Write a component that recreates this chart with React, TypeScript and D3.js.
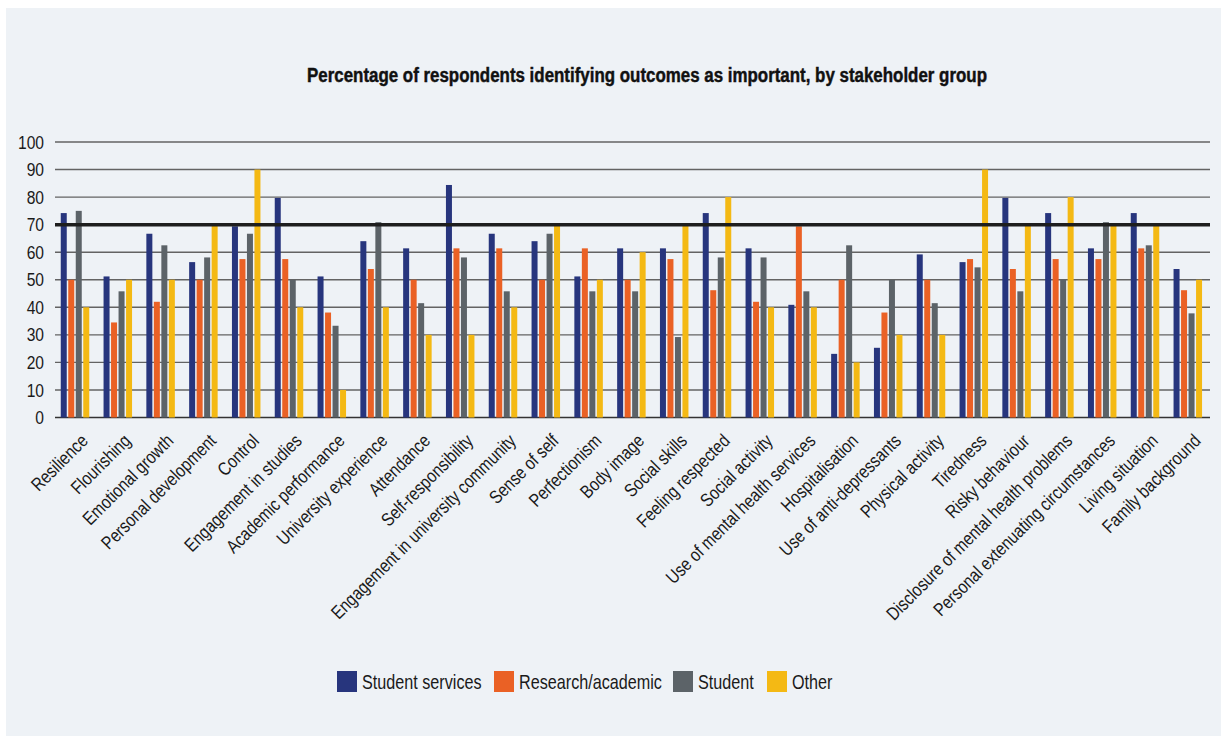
import React from "react";
import * as d3 from "d3";

// Outcome categories along the x axis
const categories = [
  "Resilience",
  "Flourishing",
  "Emotional growth",
  "Personal development",
  "Control",
  "Engagement in studies",
  "Academic performance",
  "University experience",
  "Attendance",
  "Self-responsibility",
  "Engagement in university community",
  "Sense of self",
  "Perfectionism",
  "Body image",
  "Social skills",
  "Feeling respected",
  "Social activity",
  "Use of mental health services",
  "Hospitalisation",
  "Use of anti-depressants",
  "Physical activity",
  "Tiredness",
  "Risky behaviour",
  "Disclosure of mental health problems",
  "Personal extenuating circumstances",
  "Living situation",
  "Family background",
];

// Percentage of each stakeholder group rating the outcome important
const studentServices = [
  74.2, 51.2, 66.7, 56.4, 69.4, 79.7, 51.2, 64, 61.4, 84.4, 66.7, 64, 51.2, 61.4,
  61.4, 74.2, 61.4, 40.9, 23.1, 25.3, 59.2, 56.4, 79.7, 74.2, 61.4, 74.2, 53.9,
];
const researchAcademic = [
  50, 34.5, 42, 50, 57.5, 57.5, 38.1, 53.9, 50, 61.4, 61.4, 50, 61.4, 50, 57.5,
  46.2, 42, 69.4, 50, 38.1, 50, 57.5, 53.9, 57.5, 57.5, 61.4, 46.2,
];
const student = [
  75, 45.8, 62.5, 58.1, 66.7, 50, 33.3, 70.9, 41.5, 58.1, 45.8, 66.7, 45.8, 45.8,
  29.2, 58.1, 58.1, 45.8, 62.5, 50, 41.5, 54.5, 45.8, 50, 70.9, 62.5, 37.8,
];
const other = [
  40, 50, 50, 70, 90, 40, 10, 40, 30, 30, 40, 70, 50, 60, 70, 80, 40, 40, 20, 30,
  30, 90, 70, 80, 70, 70, 50,
];

const seriesNames = ["Student services", "Research/academic", "Student", "Other"];
const seriesValues = [studentServices, researchAcademic, student, other];
const seriesColors = ["#27357d", "#ea6125", "#5c6368", "#f4b914"];

const yTicks = [0, 10, 20, 30, 40, 50, 60, 70, 80, 90, 100];
const threshold = 70;

const W = 1226;
const H = 736;
const FONT = "'Liberation Sans', Arial, sans-serif";
// horizontal squeeze giving the condensed grotesque look
const SQUEEZE = 0.83;

export default function App() {
  const x = d3.scaleBand<string>().domain(categories).range([53.6, 1209.2]);
  const inner = d3
    .scaleBand<number>()
    .domain(d3.range(seriesNames.length))
    .range([x.bandwidth() / 2 - 14.25, x.bandwidth() / 2 + 14.25])
    .paddingInner(0.2);
  const y = d3.scaleLinear().domain([0, 100]).range([417.5, 142]);

  const legendX = [337, 494, 673, 767];

  return (
    <div style={{ position: "absolute", left: 0, top: 0 }}>
      <svg width={W} height={H} style={{ display: "block", background: "#ffffff" }}>
        <rect x={6} y={8} width={1215} height={H - 8} fill="#eef2f6" />

        <text
          x={647}
          y={82.3}
          textAnchor="middle"
          fontFamily={FONT}
          fontWeight="bold"
          fontSize={20}
          textLength={680}
          lengthAdjust="spacingAndGlyphs"
          fill="#111"
          stroke="#111"
          strokeWidth={0.45}
        >
          Percentage of respondents identifying outcomes as important, by stakeholder group
        </text>

        {/* gridlines and y tick labels */}
        {yTicks.map((t) => (
          <g key={t}>
            <line
              x1={55}
              x2={1210}
              y1={y(t)}
              y2={y(t)}
              stroke={t === 0 ? "#333" : "#636363"}
              strokeWidth={1.4}
            />
            <text
              transform={`translate(44,${y(t)}) scale(${SQUEEZE},1)`}
              dy="0.35em"
              textAnchor="end"
              fontFamily={FONT}
              fontSize={18.8}
              fill="#1a1a1a"
            >
              {t}
            </text>
          </g>
        ))}

        {/* bars */}
        {categories.map((c, i) => (
          <g key={c} transform={`translate(${x(c)},0)`}>
            {seriesValues.map((vals, s) => (
              <rect
                key={s}
                x={inner(s)}
                y={y(vals[i])}
                width={inner.bandwidth()}
                height={y(0) - y(vals[i])}
                fill={seriesColors[s]}
              />
            ))}
          </g>
        ))}

        {/* 70% reference line */}
        <line
          x1={55}
          x2={1210}
          y1={y(threshold)}
          y2={y(threshold)}
          stroke="#1e1e1e"
          strokeWidth={3.5}
        />

        {/* category labels */}
        {categories.map((c) => {
          const cx = (x(c) as number) + x.bandwidth() / 2;
          return (
            <text
              key={c}
              transform={`translate(${cx + 14},442) rotate(-45) scale(${SQUEEZE},1)`}
              textAnchor="end"
              fontFamily={FONT}
              fontSize={18.6}
              fill="#1a1a1a"
            >
              {c}
            </text>
          );
        })}

        {/* legend */}
        {seriesNames.map((n, s) => (
          <g key={n} transform={`translate(${legendX[s]},671)`}>
            <rect width={20} height={21} fill={seriesColors[s]} />
            <text
              transform={`translate(25,10.5) scale(${SQUEEZE},1)`}
              dy="0.36em"
              fontFamily={FONT}
              fontSize={19.5}
              fill="#1a1a1a"
            >
              {n}
            </text>
          </g>
        ))}
      </svg>
    </div>
  );
}
